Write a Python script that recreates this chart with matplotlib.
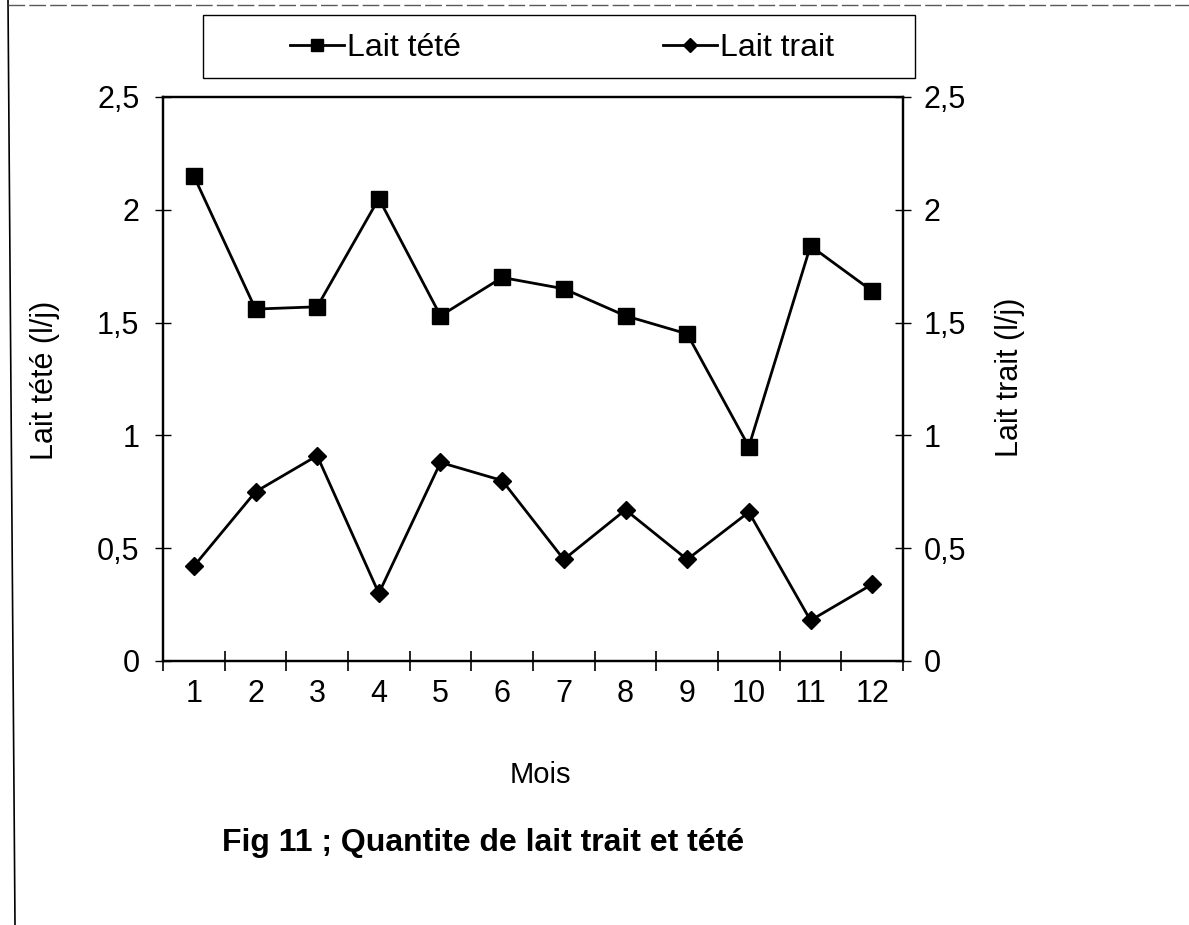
import matplotlib.pyplot as plt
from matplotlib.lines import Line2D
from matplotlib.patches import Rectangle

plt.rcParams['font.family'] = ['Liberation Sans', 'DejaVu Sans']

mois = [1, 2, 3, 4, 5, 6, 7, 8, 9, 10, 11, 12]
lait_tete = [2.15, 1.56, 1.57, 2.05, 1.53, 1.70, 1.65, 1.53, 1.45, 0.95, 1.84, 1.64]
lait_trait = [0.42, 0.75, 0.91, 0.30, 0.88, 0.80, 0.45, 0.67, 0.45, 0.66, 0.18, 0.34]
y_ticks = [0, 0.5, 1, 1.5, 2, 2.5]
y_ticklabels = ['0', '0,5', '1', '1,5', '2', '2,5']

W, H = 1189, 925
fig = plt.figure(figsize=(W / 100, H / 100), dpi=100)
ax = fig.add_axes([163 / W, 1 - 661 / H, (903 - 163) / W, (661 - 97) / H])
ax2 = ax.twinx()

l1, = ax.plot(mois, lait_tete, color='black', lw=2, marker='s', ms=11,
              label='Lait tété')
l2, = ax2.plot(mois, lait_trait, color='black', lw=2, marker='D', ms=9,
               label='Lait trait')

for a in (ax, ax2):
    a.set_ylim(0, 2.5)
    a.set_xlim(0.5, 12.5)
    a.set_yticks(y_ticks)
    a.set_yticklabels(y_ticklabels)
    for s in a.spines.values():
        s.set_linewidth(1.6)

# category axis: ticks between the months, labels centred on them
ax.set_xticks([m + 0.5 for m in [0] + mois])
ax.set_xticklabels([])
ax.set_xticks(mois, minor=True)
ax.set_xticklabels([str(m) for m in mois], minor=True)
ax.tick_params(axis='x', which='major', direction='inout', length=14, width=1.2)
ax.tick_params(axis='x', which='minor', length=0, pad=13, labelsize=22)
ax.tick_params(axis='y', direction='inout', length=12, width=1, pad=11, labelsize=22)
ax2.tick_params(axis='y', direction='inout', length=12, width=1, pad=9, labelsize=22)

fig.text(45 / W, 1 - 380 / H, 'Lait tété (l/j)', rotation=90, fontsize=22,
         ha='center', va='center')
fig.text(1010 / W, 1 - 377 / H, 'Lait trait (l/j)', rotation=90, fontsize=22,
         ha='center', va='center')
fig.text(540 / W, 1 - 775 / H, 'Mois', fontsize=21, ha='center', va='center')
fig.text(483 / W, 1 - 843 / H, 'Fig 11 ; Quantite de lait trait et tété',
         fontsize=23, fontweight='bold', ha='center', va='center')

# legend box, entries centred in it
fig.add_artist(Rectangle((203 / W, 1 - 78 / H), (915 - 203) / W, 63 / H,
                         transform=fig.transFigure, fill=False,
                         edgecolor='black', lw=1.0))
leg = fig.legend(handles=[l1, l2], ncol=2, fontsize=23, loc='center',
                 bbox_to_anchor=(562 / W, 1 - 48 / H), frameon=False,
                 handlelength=1.7, handletextpad=0.1, columnspacing=6.3,
                 markerscale=0.8)

# scanned page edges
fig.add_artist(Line2D([8 / W, 15 / W], [1, 0], transform=fig.transFigure,
                      color='black', lw=1.2))
fig.add_artist(Line2D([8 / W, 1], [1 - 5 / H, 1 - 5 / H], transform=fig.transFigure,
                      color='0.35', lw=1.0, ls=(0, (12, 3))))

fig.savefig('out.png', dpi=100, facecolor='white')
